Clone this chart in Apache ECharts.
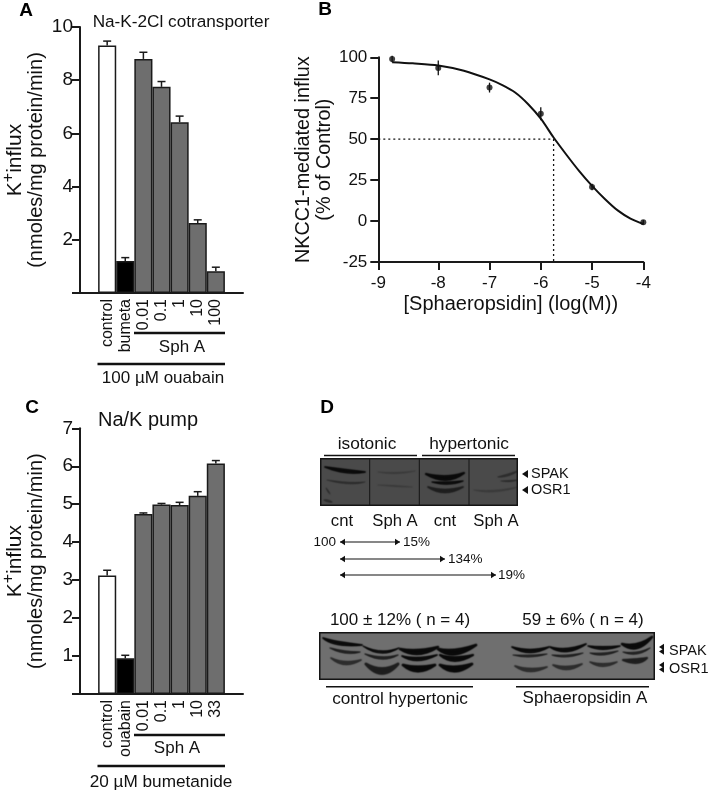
<!DOCTYPE html>
<html><head><meta charset="utf-8">
<style>html,body{margin:0;padding:0;background:#fff}#c{width:708px;height:793px}</style>
<script src="https://cdn.jsdelivr.net/npm/echarts@6/dist/echarts.min.js"></script>
</head><body><div id="c"></div>
<script>
// ---- Panel A
const aCategories = ['control','bumeta','0.01','0.1','1','10','100'];
const aValues = [9.3,1.2,8.8,7.75,6.42,2.63,0.82];
const aErrorTops = [9.47,1.33,9.05,7.95,6.65,2.75,0.97];
// ---- Panel C
const cCategories = ['control','ouabain','0.01','0.1','1','10','33'];
const cValues = [3.12,0.94,4.74,4.99,4.98,5.22,6.07];
const cErrorTops = [3.26,1.02,4.77,5.02,5.05,5.33,6.15];
// ---- Panel B
const bDoses = [-8.9,-8,-7,-6,-5,-4];
const bInflux = [99,93.5,81.5,65.5,20.8,-0.8];
const bErrors = [2,4.5,3,4,2,1.5];
const bCurveX = [-8.9,-8.5,-8,-7.5,-7,-6.75,-6.5,-6.25,-6,-5.75,-5.5,-5.25,-5,-4.75,-4.5,-4.25,-4];
const bCurveY = [97,96.3,95,91.8,86.5,83,78.5,71.5,62.5,51,40.5,30.5,21.5,13.5,6.5,1.5,-1.8];
const bIC50 = -5.75;
const bXTicks = [-9.17,-8,-7,-6,-5,-4];

const FONT = 'Liberation Sans';
const INK = '#111';
const GREY = '#6e6e6e';
const barColors = ['#ffffff','#000000',GREY,GREY,GREY,GREY,GREY];

function pad(a, blank){ return [blank, ...a, blank===null ? null : ' ']; }
function axisLineStyle(){ return {show:true,onZero:false,lineStyle:{color:'#1a1a1a',width:2}}; }

function barAxes(cats, grid){
  return {type:'category',gridIndex:grid,data:pad(cats,''),
    axisLine:axisLineStyle(),axisTick:{show:false},
    axisLabel:{interval:0,rotate:90,margin:6,fontFamily:FONT,fontSize:16,color:INK}};
}
function yBarAxis(grid,max,interval,name,gap){
  return {type:'value',gridIndex:grid,min:0,max,interval,
    splitLine:{show:false},axisLine:axisLineStyle(),
    axisTick:{show:true,length:8,lineStyle:{color:'#1a1a1a',width:2}},
    axisLabel:{margin:7,fontFamily:FONT,fontSize:19,color:INK,formatter:v=>v===0?'':String(v)},
    name,nameLocation:'middle',nameGap:gap,nameRotate:90,
    nameTextStyle:{fontFamily:FONT,color:INK,fontSize:20,lineHeight:21,
      rich:{k:{fontFamily:FONT,fontSize:21,color:INK,lineHeight:25,verticalAlign:'bottom'},
            s:{fontFamily:FONT,fontSize:16,color:INK,lineHeight:25,verticalAlign:'top'},
            p:{fontFamily:FONT,fontSize:20,color:INK,lineHeight:21}}}};
}
function barSeries(vals,grid){
  return {type:'bar',xAxisIndex:grid,yAxisIndex:grid,barWidth:'100%',silent:true,z:3,
    data:pad(vals.map((v,i)=>({value:v,itemStyle:{color:barColors[i],borderColor:'#1a1a1a',borderWidth:1.5}})),null)};
}
function errSeries(vals,tops,grid){
  return {type:'custom',xAxisIndex:grid,yAxisIndex:grid,silent:true,z:2,
    data:vals.map((v,i)=>[i+1,v,tops[i]]),
    encode:{x:0,y:[1,2]},
    renderItem(p,api){
      const a=api.coord([api.value(0),api.value(1)]),b=api.coord([api.value(0),api.value(2)]);
      const st={stroke:'#1a1a1a',lineWidth:1.5,fill:null};
      return {type:'group',children:[
        {type:'line',shape:{x1:a[0],y1:a[1],x2:b[0],y2:b[1]},style:st},
        {type:'line',shape:{x1:b[0]-4,y1:b[1],x2:b[0]+4,y2:b[1]},style:st}]};
    }};
}

// ---- annotation helpers
function txt(x,y,text,size,o={}){
  return {type:'text',x,y,silent:true,z:10,style:Object.assign({text,fontFamily:FONT,fontSize:size,fill:INK,
    textAlign:'center',textVerticalAlign:'middle'},o)};
}
function rule(x1,x2,y,w=2){
  return {type:'line',silent:true,z:10,shape:{x1,y1:y,x2,y2:y},style:{stroke:'#111',lineWidth:w}};
}
function head(x,y,dir,s=5){
  return {type:'polygon',silent:true,z:11,shape:{points:[[x,y],[x-dir*s,y-s*0.65],[x-dir*s,y+s*0.65]]},style:{fill:'#111'}};
}
function arrow(x1,x2,y){ return [rule(x1,x2,y,1.2),head(x1,y,-1),head(x2,y,1)]; }

// photographic blots, painted off-screen with a soft blur
function blot(x,y,w,h,bg,bands,dividers,blur){
  const c=document.createElement('canvas');
  c.width=w*2;c.height=h*2;
  const g=c.getContext('2d');
  g.scale(2,2);
  g.fillStyle=bg;g.fillRect(0,0,w,h);
  g.filter='blur('+blur+'px)';
  bands.forEach(([p0,p1,p2,t,color])=>{
    const P=[p0,p1,p2].map(q=>[q[0]-x,q[1]-y]);
    const cx=2*P[1][0]-(P[0][0]+P[2][0])/2, cy=2*P[1][1]-(P[0][1]+P[2][1])/2;
    g.fillStyle=color;g.strokeStyle=color;g.lineWidth=Math.max(0.8,t*0.5);g.lineJoin='round';
    g.beginPath();
    g.moveTo(P[0][0],P[0][1]);
    g.quadraticCurveTo(cx,cy-t*0.8,P[2][0],P[2][1]);
    g.quadraticCurveTo(cx,cy+t*0.8,P[0][0],P[0][1]);
    g.closePath();g.fill();g.stroke();
  });
  g.filter='none';
  g.strokeStyle='#141414';g.lineWidth=1;
  dividers.forEach(d=>{g.beginPath();g.moveTo(d-x,0);g.lineTo(d-x,h);g.stroke();});
  g.lineWidth=2;g.strokeRect(0.5,0.5,w-1,h-1);
  return {type:'image',silent:true,z:5,x,y,style:{image:c,x:0,y:0,width:w,height:h}};
}
const D1='#0a0a0a', D2='#1e1e1e', D3='#2c2c2c', D4='#3a3a3a';
const upperBands=[
  [[325,467],[345,471],[365,472],3.5,D1],
  [[327,480],[348,483],[365,482],1.6,D3],
  [[324,500],[328,501],[332,502],2,D3],
  [[326,488],[328,491],[330,494],1.5,D3],
  [[378,472],[396,473],[415,471],1,D4],
  [[378,485],[395,486],[412,487],1,D4],
  [[426,474],[446,478],[464,473],4.5,D1],
  [[432,482],[448,483],[463,481],2.6,D1],
  [[428,487],[445,491],[463,487],3.5,D2],
  [[498,477],[508,475],[518,471],2,D3],
  [[501,481],[510,481],[518,480],1.2,D3],
  [[474,490],[495,491],[518,487],1.6,D4]
];
const lowerBands=[
  [[323,638],[338,643],[362,645],3.5,D1],
  [[330,648],[345,652],[360,652],2.4,D2],
  [[331,658],[345,663],[361,660],3.4,D3],
  [[363,646],[381,652],[399,648],2.5,D1],
  [[365,654],[382,658],[398,655],2.5,D2],
  [[366,664],[382,671],[398,664],6,D2],
  [[400,649],[418,652],[438,647],5,D1],
  [[402,656],[418,659],[437,655],3.5,D1],
  [[403,665],[418,669],[435,665],5.5,D1],
  [[438,649],[455,652],[476,645],5.5,D1],
  [[440,655],[455,659],[473,655],4.5,D1],
  [[440,665],[455,669],[472,664],5.5,D1],
  [[512,647],[530,651],[549,647],3.5,D1],
  [[513,655],[530,656],[547,654],2,D2],
  [[515,666],[530,670],[547,667],3.5,D3],
  [[550,647],[567,650],[586,644],3.5,D1],
  [[552,655],[567,656],[583,653],2,D2],
  [[553,665],[567,668],[582,664],3.5,D3],
  [[588,646],[603,648],[620,646],3,D1],
  [[590,653],[603,654],[618,651],2.2,D2],
  [[590,662],[603,665],[617,662],3,D3],
  [[622,644],[637,646],[652,637],5,D1],
  [[623,652],[637,653],[650,648],2.2,D2],
  [[623,660],[637,661],[647,658],4.5,D2]
];

const graphics = [
  // panel letters
  txt(26,11,'A',19,{fontWeight:'bold',fill:'#000'}),
  txt(325,10,'B',19,{fontWeight:'bold',fill:'#000'}),
  txt(32,408,'C',19,{fontWeight:'bold',fill:'#000'}),
  txt(327,408,'D',19,{fontWeight:'bold',fill:'#000'}),
  // titles
  txt(181,22,'Na-K-2Cl cotransporter',17.2),
  txt(148,420,'Na/K pump',20),
  // panel A brackets
  rule(134,225,333,2.5), txt(182,347,'Sph A',17),
  rule(97.5,225,364,2.5), txt(163,378,'100 \u00b5M ouabain',17),
  // panel C brackets
  rule(134,225,735,2.5), txt(177,748,'Sph A',17),
  rule(97.5,225,766,2.5), txt(161,782,'20 \u00b5M bumetanide',17.2),
  // panel D – upper blot
  txt(367,444,'isotonic',17.3), rule(324,417,455.5,1.5),
  txt(469,444,'hypertonic',17.3), rule(422,515,455.5,1.5),
  blot(320,458,198,48,'#4a4a4a',upperBands,[369.7,419.3,469],1.1),
  txt(342,521,'cnt',16.7), txt(395,521,'Sph A',16.7), txt(445,521,'cnt',16.7), txt(496,521,'Sph A',16.7),
  head(522,474,-1,6), txt(531,474,'SPAK',14.5,{textAlign:'left'}),
  head(522,490,-1,6), txt(531,490,'OSR1',14.5,{textAlign:'left'}),
  txt(336,542,'100',13.5,{textAlign:'right'}),
  ...arrow(340,400,542), txt(403,542,'15%',13.5,{textAlign:'left'}),
  ...arrow(340,445,559), txt(448,559,'134%',13.5,{textAlign:'left'}),
  ...arrow(340,496,575), txt(498,575,'19%',13.5,{textAlign:'left'}),
  // panel D – lower blot
  txt(400,620,'100 \u00b1 12% ( n = 4)',17),
  txt(583,620,'59 \u00b1 6% ( n = 4)',17),
  blot(319,632,336,48,'#6f6f6f',lowerBands,[],1.0),
  head(659,647,-1,5), head(659,651.5,-1,5), txt(669,651,'SPAK',14.5,{textAlign:'left'}),
  head(659,665,-1,5), head(659,669.5,-1,5), txt(669,669,'OSR1',14.5,{textAlign:'left'}),
  rule(326,473,686.7,1.5), txt(400,699,'control hypertonic',17.2),
  rule(516,649,686.7,1.5), txt(585,698,'Sphaeropsidin A',17)
];

const option = {
  animation:false,
  backgroundColor:'#fff',
  textStyle:{fontFamily:FONT},
  grid:[
    {left:80,top:27,width:163,height:266,outerBoundsMode:'none'},
    {left:378.3,top:57.3,width:265,height:204.7,outerBoundsMode:'none'},
    {left:80,top:428.3,width:163,height:265.7,outerBoundsMode:'none'}
  ],
  xAxis:[
    barAxes(aCategories,0),
    {type:'value',gridIndex:1,min:bXTicks[0],max:-4,splitLine:{show:false},
     axisLine:axisLineStyle(),
     axisTick:{show:true,length:8,customValues:bXTicks,lineStyle:{color:'#1a1a1a',width:2}},
     axisLabel:{margin:13,fontFamily:FONT,fontSize:17,color:INK,customValues:bXTicks,showMinLabel:true,showMaxLabel:true,
       formatter:v=>v<-9?'-9':String(Math.round(v))},
     name:'[Sphaeropsidin] (log(M))',nameLocation:'middle',nameGap:32,
     nameTextStyle:{fontFamily:FONT,fontSize:20,color:INK}},
    barAxes(cCategories,2)
  ],
  yAxis:[
    yBarAxis(0,10,2,'{k|K}{s|+}{k|influx}\n{p|(nmoles/mg protein/min)}',33),
    {type:'value',gridIndex:1,min:-25,max:100,interval:25,splitLine:{show:false},
     axisLine:axisLineStyle(),
     axisTick:{show:true,length:8,lineStyle:{color:'#1a1a1a',width:2}},
     axisLabel:{margin:11,fontFamily:FONT,fontSize:17,color:INK},
     name:'NKCC1-mediated influx\n(% of Control)',nameLocation:'middle',nameGap:36,nameRotate:90,
     nameTextStyle:{fontFamily:FONT,fontSize:19.8,color:INK,lineHeight:21}},
    yBarAxis(2,7,1,'{k|K}{s|+}{k|influx}\n{p|(nmoles/mg protein/min)}',33)
  ],
  series:[
    errSeries(aValues,aErrorTops,0),
    barSeries(aValues,0),
    errSeries(cValues,cErrorTops,2),
    barSeries(cValues,2),
    // panel B
    {type:'line',xAxisIndex:1,yAxisIndex:1,smooth:0.3,symbol:'none',silent:true,z:3,
     lineStyle:{color:'#111',width:2},data:bCurveX.map((x,i)=>[x,bCurveY[i]])},
    {type:'line',xAxisIndex:1,yAxisIndex:1,symbol:'none',silent:true,z:2,
     lineStyle:{color:'#111',width:1.3,type:[2,3]},
     data:[[bXTicks[0],50],[bIC50,50],[bIC50,-25]]},
    {type:'custom',xAxisIndex:1,yAxisIndex:1,silent:true,z:4,
     data:bDoses.map((x,i)=>[x,bInflux[i]-bErrors[i],bInflux[i]+bErrors[i]]),
     encode:{x:0,y:[1,2]},
     renderItem(p,api){
       const a=api.coord([api.value(0),api.value(1)]),b=api.coord([api.value(0),api.value(2)]);
       return {type:'line',shape:{x1:a[0],y1:a[1],x2:b[0],y2:b[1]},style:{stroke:'#111',lineWidth:1.3,fill:null}};
     }},
    {type:'scatter',xAxisIndex:1,yAxisIndex:1,silent:true,z:5,symbol:'circle',symbolSize:6,
     itemStyle:{color:'#111'},data:bDoses.map((x,i)=>[x,bInflux[i]])}
  ],
  graphic:{elements:graphics}
};
const chart = echarts.init(document.getElementById('c'),null,{renderer:'canvas'});
chart.setOption(option);
</script></body></html>
